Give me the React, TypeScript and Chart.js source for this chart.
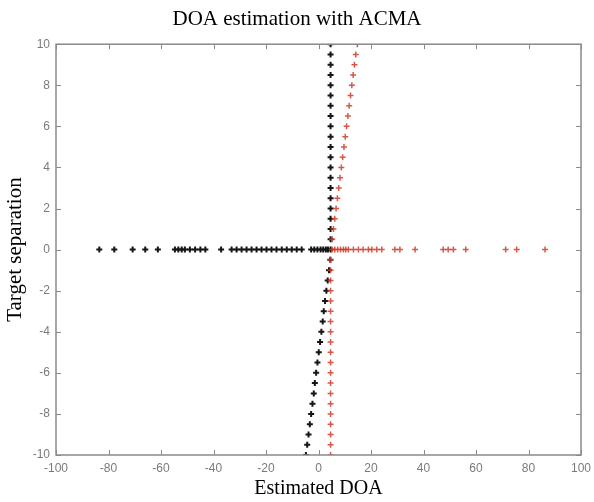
import React, { useEffect, useRef } from "react";
import { Chart, registerables } from "chart.js";

Chart.register(...registerables);

// Target separation values (y)
const separationLower = [-10, -9.5, -9, -8.5, -8, -7.5, -7, -6.5, -6, -5.5, -5, -4.5, -4, -3.5, -3, -2.5, -2, -1.5, -1, -0.5];
const separationUpper = [0.5, 1, 1.5, 2, 2.5, 3, 3.5, 4, 4.5, 5, 5.5, 6, 6.5, 7, 7.5, 8, 8.5, 9, 9.5, 10];

// Estimated DOA (x) for each separation
const blackLower = [-4.8, -4.3, -3.8, -3.3, -2.8, -2.3, -1.8, -1.4, -0.9, -0.4, 0.1, 0.6, 1.1, 1.6, 2.0, 2.5, 3.0, 3.5, 4.0, 4.5];
const redLower = [4.6, 4.6, 4.6, 4.6, 4.6, 4.6, 4.6, 4.6, 4.6, 4.6, 4.6, 4.6, 4.6, 4.6, 4.6, 4.6, 4.6, 4.6, 4.6, 4.6];
const blackUpper = [4.6, 4.6, 4.6, 4.6, 4.6, 4.6, 4.6, 4.6, 4.6, 4.6, 4.6, 4.6, 4.6, 4.6, 4.6, 4.6, 4.6, 4.6, 4.6, 4.6];
const redUpper = [5.2, 5.7, 6.2, 6.7, 7.2, 7.7, 8.2, 8.7, 9.2, 9.7, 10.2, 10.7, 11.2, 11.7, 12.2, 12.7, 13.2, 13.7, 14.2, 14.8];

// Estimates at zero separation
const blackZero = [-83.5, -77.8, -70.8, -66, -61.2, -54.7, -53.4, -52.1, -50.9, -49, -47, -45, -43.1, -37.1, -33.1, -31.2, -29.3, -27.4, -25.5, -23.6, -21.7, -19.8, -17.9, -16, -14, -12.1, -10.2, -8.3, -6.4, -2.8, -1.6, -0.4, 0.8, 1.8, 2.8, 3.6, 4.6];
const redZero = [5.2, 6.2, 7.3, 8.4, 9.5, 10.4, 11.4, 13.3, 15.2, 17, 19, 20.3, 22.2, 24.1, 29.1, 31, 36.8, 47.5, 49.4, 51.4, 56.1, 71.3, 75.5, 86.3];

const xTicks = [-100, -80, -60, -40, -20, 0, 20, 40, 60, 80, 100];
const yTicks = [-10, -8, -6, -4, -2, 0, 2, 4, 6, 8, 10];

const frameColor = "#8a8a8a";

const framePlugin = {
  id: "frameTicks",
  afterDraw(chart: any) {
    const { ctx, chartArea, scales } = chart;
    const { left, right, top, bottom } = chartArea;
    const xs = scales.x;
    const ys = scales.y;
    ctx.save();
    ctx.strokeStyle = frameColor;
    ctx.lineWidth = 1.5;
    ctx.strokeRect(left, top, right - left, bottom - top);
    ctx.lineWidth = 1;
    ctx.beginPath();
    xTicks.forEach((v) => {
      const px = Math.round(xs.getPixelForValue(v)) + 0.5;
      ctx.moveTo(px, bottom);
      ctx.lineTo(px, bottom - 5);
      ctx.moveTo(px, top);
      ctx.lineTo(px, top + 5);
    });
    yTicks.forEach((v) => {
      const py = Math.round(ys.getPixelForValue(v)) + 0.5;
      ctx.moveTo(left, py);
      ctx.lineTo(left + 5, py);
      ctx.moveTo(right, py);
      ctx.lineTo(right - 5, py);
    });
    ctx.stroke();
    ctx.restore();
  },
};

export default function App() {
  const ref = useRef<HTMLCanvasElement>(null);

  useEffect(() => {
    if (!ref.current) return;
    const blackPts = [
      ...blackLower.map((x, i) => ({ x, y: separationLower[i] })),
      ...blackZero.map((x) => ({ x, y: 0 })),
      ...blackUpper.map((x, i) => ({ x, y: separationUpper[i] })),
    ];
    const redPts = [
      ...redLower.map((x, i) => ({ x, y: separationLower[i] })),
      ...redZero.map((x) => ({ x, y: 0 })),
      ...redUpper.map((x, i) => ({ x, y: separationUpper[i] })),
    ];
    const chart = new Chart(ref.current, {
      type: "scatter",
      data: {
        datasets: [
          {
            label: "source 2",
            data: redPts,
            pointStyle: "cross",
            pointRadius: 3,
            borderWidth: 1.5,
            borderColor: "rgba(205,60,40,0.85)",
            backgroundColor: "rgba(205,60,40,0.85)",
          },
          {
            label: "source 1",
            data: blackPts,
            pointStyle: "cross",
            pointRadius: 3,
            borderWidth: 2,
            borderColor: "#151515",
            backgroundColor: "#151515",
          },
        ],
      },
      options: {
        responsive: false,
        animation: false,
        devicePixelRatio: 1,
        layout: { padding: { left: 0, right: 0, top: 0, bottom: 0 } },
        plugins: {
          legend: { display: false },
          tooltip: { enabled: false },
          title: {
            display: true,
            text: "DOA estimation with ACMA",
            color: "#000",
            font: { family: "Liberation Serif", size: 21, weight: "normal" },
            padding: { top: 7, bottom: 12 },
          },
        },
        scales: {
          x: {
            type: "linear",
            min: -100,
            max: 100,
            afterBuildTicks: (s: any) => {
              s.ticks = xTicks.map((v) => ({ value: v }));
            },
            afterFit: (s: any) => {
              s.height = 47;
              s.paddingLeft = 0;
              s.paddingRight = 13;
            },
            grid: { display: false, drawTicks: false },
            border: { display: false },
            ticks: {
              color: "#7a7a7a",
              font: { family: "Liberation Sans", size: 12 },
              padding: 6,
              maxRotation: 0,
              autoSkip: false,
            },
            title: {
              display: true,
              text: "Estimated DOA",
              color: "#000",
              font: { family: "Liberation Serif", size: 20, weight: "normal" },
              padding: { top: 0, bottom: 1 },
            },
          },
          y: {
            type: "linear",
            min: -10,
            max: 10,
            afterBuildTicks: (s: any) => {
              s.ticks = yTicks.map((v) => ({ value: v }));
            },
            afterFit: (s: any) => {
              s.width = 56;
            },
            grid: { display: false, drawTicks: false },
            border: { display: false },
            ticks: {
              color: "#7a7a7a",
              font: { family: "Liberation Sans", size: 12 },
              padding: 6,
              autoSkip: false,
            },
            title: {
              display: true,
              text: "Target separation",
              color: "#000",
              font: { family: "Liberation Serif", size: 21, weight: "normal" },
              padding: { top: 3, bottom: 0 },
            },
          },
        },
      },
      plugins: [framePlugin],
    });
    return () => chart.destroy();
  }, []);

  return (
    <div style={{ position: "fixed", left: 0, top: 0, width: 594, height: 502, background: "#fff" }}>
      <canvas ref={ref} width={594} height={502} />
    </div>
  );
}
